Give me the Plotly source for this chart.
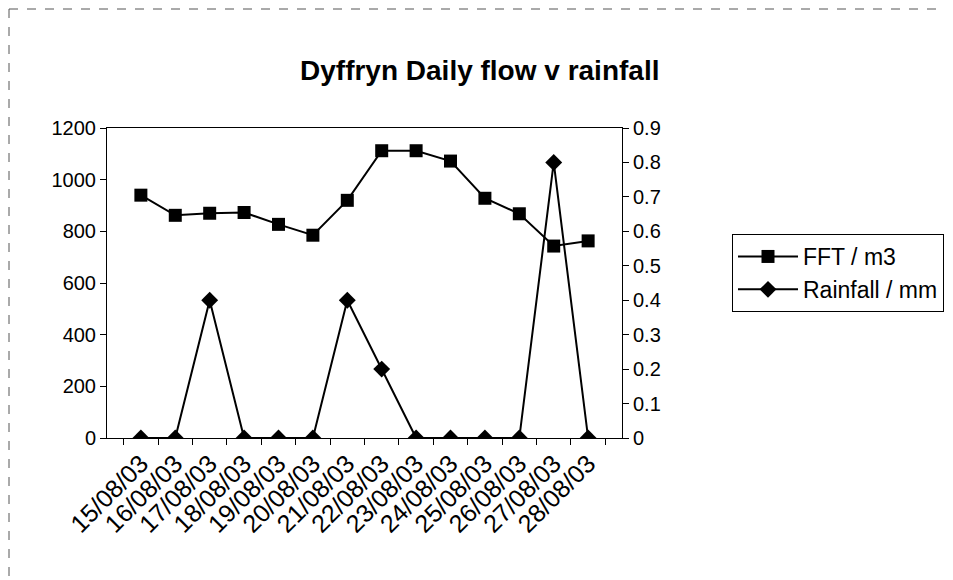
import plotly.graph_objects as go

dates = ["15/08/03", "16/08/03", "17/08/03", "18/08/03", "19/08/03", "20/08/03", "21/08/03",
         "22/08/03", "23/08/03", "24/08/03", "25/08/03", "26/08/03", "27/08/03", "28/08/03"]
fft = [940, 862, 870, 873, 827, 785, 920, 1112, 1112, 1072, 928, 868, 743, 763]
rainfall = [0, 0, 0.4, 0, 0, 0, 0.4, 0.2, 0, 0, 0, 0, 0.8, 0]

left_ticks = [0, 200, 400, 600, 800, 1000, 1200]
right_ticks = [0, 0.1, 0.2, 0.3, 0.4, 0.5, 0.6, 0.7, 0.8, 0.9]

FONT = "Liberation Sans, Arial, sans-serif"

W, H = 953, 580
L, R, T, B = 99, 339, 120, 150
PW, PH = W - L - R, H - T - B

fig = go.Figure()
fig.add_trace(go.Scatter(
    x=dates, y=fft, name="FFT / m3", mode="lines+markers",
    line=dict(color="black", width=2),
    marker=dict(symbol="square", size=13, color="black"),
))
fig.add_trace(go.Scatter(
    x=dates, y=rainfall, name="Rainfall / mm", mode="lines+markers", yaxis="y2",
    line=dict(color="black", width=2),
    marker=dict(symbol="diamond", size=13, color="black"),
))

fig.update_layout(
    width=W, height=H,
    paper_bgcolor="white", plot_bgcolor="white",
    margin=dict(l=L, r=R, t=T, b=B),
    font=dict(family=FONT, size=19, color="black"),
    title=dict(text="<b>Dyffryn Daily flow v rainfall</b>", x=0.495, xanchor="center",
               y=1 - 62 / H, yanchor="middle", font=dict(size=28, family=FONT)),
    xaxis=dict(type="category", tickangle=-45, ticks="outside", tickson="boundaries",
               ticklen=6, tickcolor="black", showline=True, linecolor="black", linewidth=1,
               mirror=True, showgrid=False, tickfont=dict(size=25)),
    yaxis=dict(range=[0, 1200], tickvals=left_ticks, ticks="outside", ticklen=6,
               tickcolor="black", showline=True, linecolor="black", linewidth=1,
               showgrid=False, zeroline=False, tickfont=dict(size=20)),
    yaxis2=dict(range=[0, 0.9], tickvals=right_ticks, overlaying="y", side="right",
                ticks="outside", ticklen=6, tickcolor="black", showline=True,
                linecolor="black", linewidth=1, showgrid=False, zeroline=False,
                tickfont=dict(size=20)),
    legend=dict(x=(724 - L) / PW, y=(H - B - 226) / PH, xanchor="left", yanchor="top",
                bordercolor="black", borderwidth=1, bgcolor="white",
                font=dict(size=23), itemwidth=60, tracegroupgap=2),
    showlegend=True,
)

# scanned page border (top and left)
bx = (1 - L) / PW
by = (H - B - 1) / PH
fig.add_shape(type="line", xref="paper", yref="paper", x0=bx, x1=(W - L) / PW + 0.05, y0=by, y1=by,
              line=dict(color="#555555", width=1, dash="dash"))
fig.add_shape(type="line", xref="paper", yref="paper", x0=bx, x1=bx, y0=by, y1=-B / PH,
              line=dict(color="#555555", width=1, dash="dash"))

fig.write_html("out.html")
